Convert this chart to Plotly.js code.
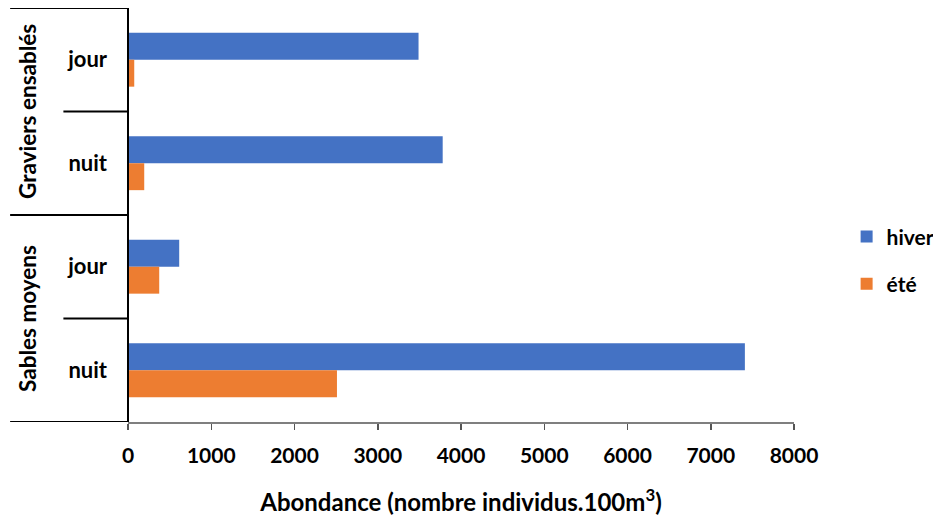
<!DOCTYPE html>
<html>
<head>
<meta charset="utf-8">
<script src="https://cdn.plot.ly/plotly-3.0.1.min.js"></script>
<style>html,body{margin:0;padding:0;background:#fff;}#chart{width:933px;height:517px;}</style>
</head>
<body>
<div id="chart"></div>
<script>
// Data (top-to-bottom order)
const groups = ["Graviers ensablés", "Graviers ensablés", "Sables moyens", "Sables moyens"];
const periods = ["jour", "nuit", "jour", "nuit"];
const hiver = [3490, 3780, 615, 7410];
const ete = [75, 195, 375, 2510];
const groupNames = ["Graviers ensablés", "Sables moyens"];
const xTicks = [0, 1000, 2000, 3000, 4000, 5000, 6000, 7000, 8000];

const FONT = "Lato, 'Open Sans', 'DejaVu Sans', sans-serif";
const keys = groups.map((g, i) => g + "|" + periods[i]);

const traces = [
  {type: "bar", orientation: "h", name: "hiver", y: keys, x: hiver,
   marker: {color: "#4472C4"}, legendgroup: "a", hoverinfo: "x"},
  {type: "bar", orientation: "h", name: "été", y: keys, x: ete,
   marker: {color: "#ED7D31"}, legendgroup: "b", hoverinfo: "x"}
];

// Left panel dividers
const shapes = [];
const n = keys.length;
for (let b = 0; b <= n; b++) {
  const isGroupEdge = (b === 0 || b === n || groups[b] !== groups[b - 1]);
  shapes.push({type: "line", xref: "paper", yref: "y",
    x0: isGroupEdge ? -0.177 : -0.097, x1: 0, y0: b - 0.5, y1: b - 0.5,
    line: {color: "#000", width: 2}});
}
shapes.push({type: "line", xref: "paper", yref: "y", x0: 0, x1: 0, y0: -0.5, y1: n - 0.5,
  line: {color: "#000", width: 2}});

// Group labels rotated
const annotations = groupNames.map(name => {
  const idx = groups.map((g, i) => g === name ? i : -1).filter(i => i >= 0);
  const mid = (idx[0] + idx[idx.length - 1]) / 2;
  return {xref: "paper", yref: "y", x: -0.151, y: mid, text: name, textangle: -90,
    showarrow: false, xanchor: "center", yanchor: "middle",
    font: {family: FONT, size: 22.5, color: "#000", weight: "bold"}};
});

const layout = {
  width: 933, height: 517,
  margin: {l: 128, r: 139, t: 8, b: 95, autoexpand: false},
  paper_bgcolor: "#fff", plot_bgcolor: "#fff",
  barmode: "group", bargap: 0.48, bargroupgap: 0,
  font: {family: FONT, color: "#000", weight: "bold"},
  xaxis: {range: [0, 8000], tickvals: xTicks, ticktext: xTicks.map(String),
    showgrid: false, zeroline: false, showline: true, linecolor: "#7f7f7f", linewidth: 1.5,
    ticks: "outside", ticklen: 6, tickcolor: "#555", tickwidth: 1.5, ticklabelstandoff: 8,
    tickfont: {family: FONT, size: 21, color: "#000", weight: "bold"},
    title: {text: "Abondance (nombre individus.100m<sup>3</sup>)", standoff: 28,
      font: {family: FONT, size: 24, color: "#000", weight: "bold"}}},
  yaxis: {type: "category", autorange: false, range: [n - 0.5, -0.5],
    tickvals: keys, ticktext: periods, showgrid: false, zeroline: false, showline: false,
    ticks: "", ticklabelstandoff: 20,
    tickfont: {family: FONT, size: 22, color: "#000", weight: "bold"}},
  legend: {x: 1.079, y: 0.497, xanchor: "left", yanchor: "top", tracegroupgap: 17,
    font: {family: FONT, size: 21, color: "#000", weight: "bold"}, bgcolor: "rgba(0,0,0,0)"},
  shapes: shapes,
  annotations: annotations
};

Plotly.newPlot("chart", traces, layout, {displayModeBar: false, staticPlot: true});
</script>
</body>
</html>
